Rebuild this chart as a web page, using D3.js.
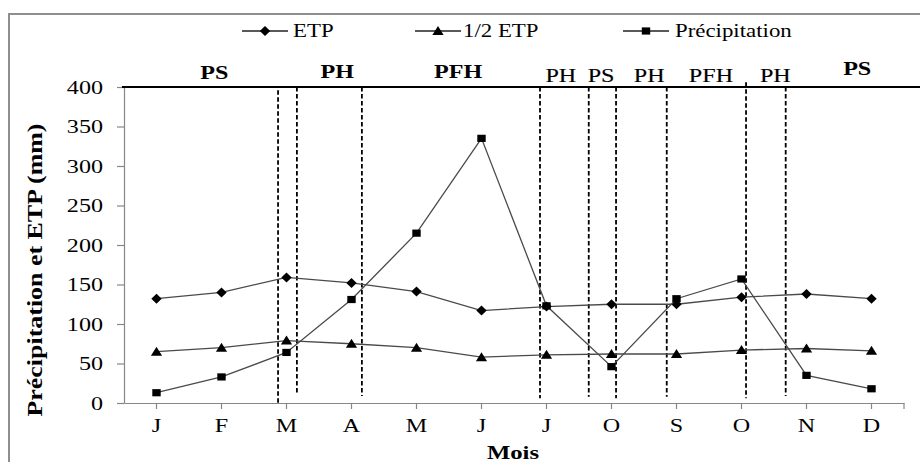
<!DOCTYPE html>
<html><head><meta charset="utf-8">
<script src="https://cdn.jsdelivr.net/npm/d3@7"></script>
<style>
body{margin:0;background:#fff}
svg{display:block}
text{font-family:"Liberation Serif","Times New Roman",serif;fill:#000}
</style>
</head><body>
<svg id="c" width="920" height="462"></svg>
<script>
// ---------- data ----------
const months   = ["J","F","M","A","M","J","J","O","S","O","N","D"];
const etp      = [132, 140, 159, 152, 141, 117, 122, 125, 125, 134, 138, 132];
const halfEtp  = [65, 70, 79, 75, 70, 58, 61, 62, 62, 67, 69, 66];
const precip   = [13, 33, 64, 131, 215, 335, 123, 46, 132, 157, 35, 18];
const yTicks   = [0, 50, 100, 150, 200, 250, 300, 350, 400];
const seriesNames = ["ETP", "1/2 ETP", "Précipitation"];
// period bands (month-index units)
const periodLabels  = ["PS","PH","PFH","PH","PS","PH","PFH","PH","PS"];
const periodCenters = [0.89, 2.78, 4.64, 6.22, 6.84, 7.58, 8.53, 9.52, 10.78];
const dividerAt     = [1.87, 2.16, 3.16, 5.90, 6.65, 7.07, 7.85, 9.07, 9.68];
const dividerTop    = [396, 400, 400, 400, 400, 400, 400, 406, 400];
const dividerBottom = [0, 10, 9, 6, 8, 6, 8, 6, 9];
const yTitle = "Précipitation et ETP (mm)";
const xTitle = "Mois";

// ---------- layout ----------
const SX = 1.27; // horizontal glyph stretch seen in the reference
const periodBold = [true,true,true,false,false,false,false,false,true];
const periodBase = [79,78,78,82,82,82,82,82,75];

const svg = d3.select("#c");
const x  = d3.scaleBand().domain(d3.range(months.length)).range([124, 904]);
const xc = i => x(i) + x.bandwidth()/2;
const xl = d3.scaleLinear().domain([-0.5, months.length - 0.5]).range([124, 904]);
const y  = d3.scaleLinear().domain([0, 400]).range([403, 87]);

function stext(g, str, tx, ty, size, anchor, weight){
  return g.append("text")
    .attr("transform", `translate(${tx},${ty}) scale(${SX},1)`)
    .attr("text-anchor", anchor || "middle")
    .attr("font-size", size)
    .attr("font-weight", weight || "normal")
    .text(str);
}

// frame
svg.append("rect").attr("x",9).attr("y",14).attr("width",930).attr("height",480)
  .attr("fill","none").attr("stroke","#8e8e8e").attr("stroke-width",2);

const axisColor = "#878787";
// y axis
const gy = svg.append("g").attr("transform","translate(124,0)")
  .call(d3.axisLeft(y).tickValues(yTicks).tickSize(7).tickSizeOuter(0).tickFormat(""));
gy.selectAll("path,line").attr("stroke",axisColor).attr("stroke-width",1.2);
yTicks.forEach(v => stext(svg, String(v), 103, y(v)+6.5, 19, "end"));

// x axis
const gx = svg.append("g").attr("transform","translate(0,403)")
  .call(d3.axisBottom(x).tickSize(6).tickSizeOuter(0).tickFormat(""));
gx.selectAll("path,line").attr("stroke",axisColor).attr("stroke-width",1.2);
gx.append("line").attr("x1",x.range()[1]).attr("x2",x.range()[1]).attr("y1",0).attr("y2",6)
  .attr("stroke",axisColor).attr("stroke-width",1.2);
months.forEach((m,i) => stext(svg, m, xc(i), 432, 19, "middle"));

// top black line
svg.append("line").attr("x1",122).attr("x2",920).attr("y1",y(400)).attr("y2",y(400))
  .attr("stroke","#000").attr("stroke-width",2);

// dividers
dividerAt.forEach((d,i) => {
  svg.append("line").attr("x1",xl(d)).attr("x2",xl(d))
    .attr("y1",y(dividerTop[i])).attr("y2",y(dividerBottom[i]))
    .attr("stroke","#000").attr("stroke-width",1.8).attr("stroke-dasharray","4.5,2.5");
});

// period labels
periodLabels.forEach((p,i) => {
  const t = stext(svg, p, xl(periodCenters[i]), periodBase[i], 19, "middle",
    periodBold[i] ? "bold" : "normal");
  if (!periodBold[i]) t.attr("stroke","#000").attr("stroke-width",0.15);
});

// markers
const markers = [
  "M0,-5L5.2,0L0,5L-5.2,0Z",
  "M0,-5L5.6,4L-5.6,4Z",
  "M-4.2,-3.6h8.4v7.2h-8.4Z"
];
const lineColor = "#4a4a4a";
const line = d3.line().x((d,i)=>xc(i)).y(d=>y(d));
[etp, halfEtp, precip].forEach((s,k) => {
  svg.append("path").datum(s).attr("d",line).attr("fill","none")
    .attr("stroke",lineColor).attr("stroke-width",1.3);
  svg.append("g").selectAll("path").data(s).join("path")
    .attr("transform",(d,i)=>`translate(${xc(i)},${y(d)})`)
    .attr("d",markers[k]).attr("fill","#000");
});

// legend
const legPos = [[242,293],[415,463],[623,675]];
seriesNames.forEach((n,k) => {
  const [lx, tx] = legPos[k];
  svg.append("line").attr("x1",lx).attr("x2",lx+46).attr("y1",31).attr("y2",31)
    .attr("stroke","#222").attr("stroke-width",1.3);
  svg.append("path").attr("transform",`translate(${lx+23},31)`).attr("d",markers[k]).attr("fill","#000");
  stext(svg, n, tx, 37, 18, "start");
});

// axis titles
stext(svg, xTitle, 513, 459, 19.5, "middle", "bold");
svg.append("text")
  .attr("transform","translate(35,270) rotate(-90)")
  .attr("text-anchor","middle").attr("dominant-baseline","central")
  .attr("font-size",20).attr("font-weight","bold")
  .attr("textLength",293).attr("lengthAdjust","spacingAndGlyphs")
  .text(yTitle);
</script>
</body></html>
